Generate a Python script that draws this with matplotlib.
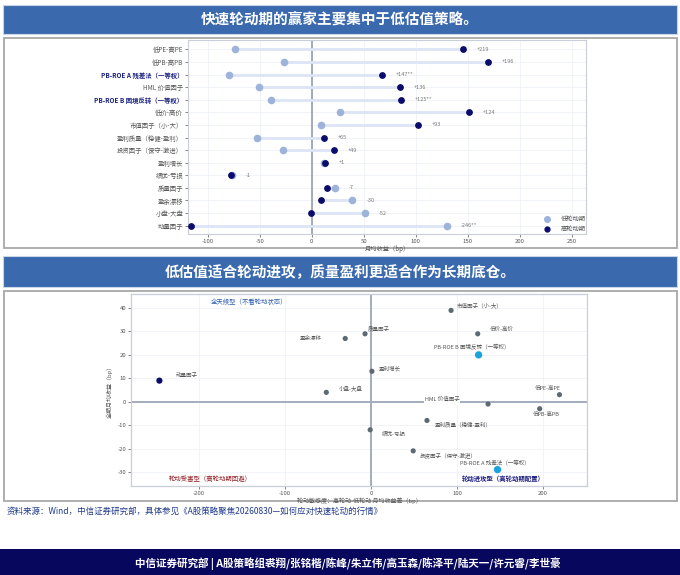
import matplotlib
matplotlib.use('Agg')
import matplotlib.pyplot as plt
from matplotlib.patches import Rectangle
from matplotlib.lines import Line2D

plt.rcParams['font.family'] = ['Noto Sans CJK SC', 'DejaVu Sans']
plt.rcParams['axes.unicode_minus'] = False

# ---------------- data ----------------
title_top = '快速轮动期的赢家主要集中于低估值策略。'
title_bottom = '低估值适合轮动进攻，质量盈利更适合作为长期底仓。'
source_text = '资料来源：Wind，中信证券研究部，具体参见《A股策略聚焦20260830—如何应对快速轮动的行情》'
footer_text = '中信证券研究部 | A股策略组裘翔/张铭楷/陈峰/朱立伟/高玉森/陈泽平/陆天一/许元睿/李世豪'

factors_top = ['低PE-高PE', '低PB-高PB', 'PB-ROE A 残差法（一等权）', 'HML 价值因子',
               'PB-ROE B 困境反转（一等权）', '低价-高价', '市值因子（小-大）',
               '盈利质量（稳健-盈利）', '投资因子（保守-激进）', '盈利增长', '绩优-亏损',
               '质量因子', '盈余漂移', '小盘-大盘', '动量因子']
low_rot = [-74, -27, -80, -51, -39, 27, 9, -53, -28, 12, -77, 22, 39, 51, 130]
high_rot = [145, 169, 67, 85, 86, 151, 102, 12, 21, 13, -78, 15, 9, -1, -116]
diff_labels = ['+219', '+196', '+147**', '+136', '+125**', '+124', '+93', '+65', '+49',
               '+1', '-1', '-7', '-30', '-52', '-246**']
highlight_factors = ['PB-ROE A 残差法（一等权）', 'PB-ROE B 困境反转（一等权）']
top_xticks = [-100, -50, 0, 50, 100, 150, 200, 250]
legend_labels = ['低轮动期', '高轮动期']

sc_names = ['动量因子', '盈余漂移', '质量因子', '盈利增长', '小盘-大盘', '绩优-亏损',
            '市值因子（小-大）', '低价-高价', 'PB-ROE B 困境反转（一等权）', '低PE-高PE',
            'HML 价值因子', '低PB-高PB', '盈利质量（稳健-盈利）', '投资因子（保守-激进）',
            'PB-ROE A 残差法（一等权）']
sc_x = [-246, -30, -7, 1, -52, -1, 93, 124, 125, 219, 136, 196, 65, 49, 147]
sc_y = [9, 27, 29, 13, 4, -12, 39, 29, 20, 3, -1, -3, -8, -21, -29]
sc_xticks = [-200, -100, 0, 100, 200]
sc_yticks = [-30, -20, -10, 0, 10, 20, 30, 40]
quad_all = '全天候型（不看轮动状态）'
quad_victim = '轮动受害型（高轮动期回避）'
quad_attack = '轮动进攻型（高轮动期配置）'
sc_xlabel = '轮动敏感度：高轮动-低轮动 月均收益差（bp）'
sc_ylabel = '全期月均收益（bp）'
top_xlabel = '月均收益（bp）'

# label placement (offset in points, ha)
sc_label_pos = {
    '动量因子': (12, 4, 'left'), '盈余漂移': (-17, 0, 'right'), '质量因子': (2, 3.5, 'left'),
    '盈利增长': (5, 2, 'left'), '小盘-大盘': (9, 2.6, 'left'), '绩优-亏损': (8, -3, 'left'),
    '市值因子（小-大）': (4, 3.4, 'left'), '低价-高价': (9, 3, 'left'),
    'PB-ROE B 困境反转（一等权）': (-5, 5.5, 'center'), '低PE-高PE': (-8, 4, 'center'),
    'HML 价值因子': (-33, 3.4, 'center'), '低PB-高PB': (4.5, -5, 'center'),
    '盈利质量（稳健-盈利）': (6, -3, 'left'), '投资因子（保守-激进）': (4.6, -3.4, 'left'),
    'PB-ROE A 残差法（一等权）': (-2, 5, 'center'),
}

W, H = 680, 575
BLUE = '#3A6AAD'
NAVY = '#07075E'
LOWC = '#9DB3DA'
HIGHC = '#0B0B6B'
GRAYPT = '#5E6A72'
CYAN = '#1CA3DA'
TXT = '#555555'

fig = plt.figure(figsize=(W / 100, H / 100), dpi=100)
fig.patch.set_facecolor('white')

bg = fig.add_axes([0, 0, 1, 1], zorder=-10)
bg.set_xlim(0, W)
bg.set_ylim(H, 0)
bg.axis('off')

def rect(x0, y0, x1, y1, **kw):
    bg.add_patch(Rectangle((x0, y0), x1 - x0, y1 - y0, **kw))

rect(3, 5, 677, 34, facecolor=BLUE, edgecolor='#C9D5E8', lw=0.8)
bg.text(340, 20, title_top, color='white', fontsize=10.5, fontweight='bold', ha='center', va='center')
rect(4, 38, 677, 248, facecolor='white', edgecolor='#A8A8A8', lw=1.3)
rect(3, 256, 677, 287, facecolor=BLUE, edgecolor='#C9D5E8', lw=0.8)
bg.text(340, 272, title_bottom, color='white', fontsize=10.5, fontweight='bold', ha='center', va='center')
rect(4, 291, 677, 501, facecolor='white', edgecolor='#A8A8A8', lw=1.3)
bg.text(7, 511, source_text, color='#1F3A8A', fontsize=6.1, ha='left', va='center')
rect(0, 549, W, H, facecolor=NAVY, edgecolor='none')
bg.text(348, 564, footer_text, color='white', fontsize=7.6, fontweight='bold', ha='center', va='center')

def fig_axes(x0, y0, x1, y1):
    return fig.add_axes([x0 / W, 1 - y1 / H, (x1 - x0) / W, (y1 - y0) / H])

# ---------------- top dumbbell ----------------
ax = fig_axes(188, 40, 586, 234)
n = len(factors_top)
rows = list(range(n))
ax.set_xlim(-119, 263.5)
ax.set_ylim(n - 1 + 0.66, -0.74)
ax.set_xticks(top_xticks)
ax.set_yticks(rows)
ax.set_yticklabels(factors_top)
ax.grid(True, color='#EEF1F6', lw=0.6, zorder=0)
ax.set_axisbelow(True)
for s in ax.spines.values():
    s.set_color('#C9CFDA')
    s.set_linewidth(0.8)
ax.axvline(0, color='#8C95A8', lw=1.1, zorder=1)
for i in rows:
    ax.plot([low_rot[i], high_rot[i]], [i, i], color='#DCE5F5', lw=2.0, zorder=2, solid_capstyle='round')
ax.scatter(low_rot, rows, s=20, color=LOWC, zorder=3, label=legend_labels[0])
ax.scatter(high_rot, rows, s=15, color=HIGHC, zorder=4, label=legend_labels[1])
for i in rows:
    ax.annotate(diff_labels[i], (max(low_rot[i], high_rot[i]), i), xytext=(10, 0),
                textcoords='offset points', fontsize=4.0, color='#777777', va='center', ha='left')
ax.tick_params(axis='both', labelsize=4.3, colors=TXT, length=2, width=0.5, pad=1.5)
for lab in ax.get_yticklabels():
    lab.set_fontsize(4.6)
    if lab.get_text() in highlight_factors:
        lab.set_color('#1A2380')
        lab.set_fontweight('bold')
ax.set_xlabel(top_xlabel, fontsize=4.5, color=TXT, labelpad=0.5)
ax.legend(loc='lower left', bbox_to_anchor=(0.875, -0.015), fontsize=4.5, frameon=False,
          handletextpad=1.2, labelspacing=0.25, borderpad=0.2, markerscale=0.9, labelcolor=TXT)

# ---------------- bottom scatter ----------------
ax2 = fig_axes(131, 294, 587, 486)
ax2.set_xlim(-279, 251)
ax2.set_ylim(-36, 46)
ax2.set_xticks(sc_xticks)
ax2.set_yticks(sc_yticks)
ax2.grid(True, color='#EEF1F6', lw=0.6, zorder=0)
ax2.set_axisbelow(True)
for s in ax2.spines.values():
    s.set_color('#C9CFDA')
    s.set_linewidth(0.9)
ax2.axvline(0, color='#A3ACBD', lw=1.4, zorder=1)
ax2.axhline(0, color='#A3ACBD', lw=1.4, zorder=1)
for name, x, y in zip(sc_names, sc_x, sc_y):
    if name == '动量因子':
        c, s = HIGHC, 20
    elif name in highlight_factors:
        c, s = CYAN, 28
    else:
        c, s = GRAYPT, 14
    ax2.scatter([x], [y], s=s, color=c, zorder=4, edgecolors='none')
    dx, dy, ha = sc_label_pos[name]
    kw = {}
    if name == 'HML 价值因子':
        kw['bbox'] = dict(facecolor='white', edgecolor='none', pad=0.6)
    ax2.annotate(name, (x, y), xytext=(dx, dy), textcoords='offset points', fontsize=4.0,
                 color='#555555', ha=ha, va='center', zorder=5, **kw)
ax2.text(-141.5, 42.6, quad_all, fontsize=4.6, color='#2E5FAE', ha='center', va='center')
ax2.text(-187, -32.8, quad_victim, fontsize=4.6, color='#8E1B22', ha='center', va='center')
ax2.text(154, -32.7, quad_attack, fontsize=4.6, color='#1A1A80', fontweight='bold', ha='center', va='center')
ax2.tick_params(axis='both', labelsize=4.3, colors=TXT, length=2, width=0.5, pad=1.5)
ax2.set_xlabel(sc_xlabel, fontsize=4.3, color=TXT, labelpad=0.8)
ax2.set_ylabel(sc_ylabel, fontsize=4.3, color=TXT, labelpad=3)

fig.savefig('out.png', dpi=100)
